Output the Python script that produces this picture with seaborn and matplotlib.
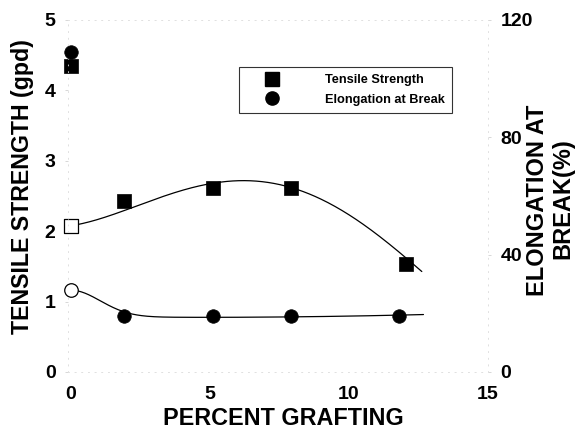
import numpy as np
import matplotlib
matplotlib.use("Agg")
import matplotlib.pyplot as plt
import seaborn as sns
from matplotlib.lines import Line2D

# Ungrafted control fibre
control_x = [0.0]
control_tensile = [4.35]      # gpd
control_elong = [109.0]       # %

# Treated fibre, 0 % grafting (open symbols)
base_x = [0.0]
base_tensile = [2.08]
base_elong = [28.0]

# Grafted fibres
graft_x_ts = [1.9, 5.1, 7.9, 12.05]
graft_tensile = [2.43, 2.61, 2.62, 1.53]
graft_x_el = [1.9, 5.1, 7.9, 11.8]
graft_elong = [19.2, 19.2, 19.2, 19.2]

# Trend curves (smoothed fits)
ts_trend_x = [0.0, 0.27, 1.95, 3.39, 4.95, 6.1, 7.17, 7.89, 9.68, 11.48, 12.62]
ts_trend_y = [2.08, 2.09, 2.31, 2.50, 2.64, 2.74, 2.70, 2.63, 2.28, 1.83, 1.42]
el_trend_x = [0.0, 0.51, 1.23, 1.95, 2.79, 3.99, 5.79, 8.18, 10.58, 12.68]
el_trend_y = [28.0, 26.8, 23.4, 20.35, 19.1, 18.65, 18.5, 18.85, 19.3, 19.5]

x_ticks = [0, 5, 10, 15]
left_ticks = [0, 1, 2, 3, 4, 5]
right_ticks = [0, 40, 80, 120]

sns.set_style("white")
plt.rcParams["font.family"] = ["Liberation Sans", "DejaVu Sans"]
plt.rcParams["font.weight"] = "bold"
plt.rcParams["text.color"] = "black"

W, H = 575, 429
fig = plt.figure(figsize=(W / 100, H / 100), dpi=100)
ax = fig.add_axes([68 / W, 1 - 372 / H, 420 / W, 352 / H])
ax2 = ax.twinx()

# Smooth trend lines
tx = np.array(ts_trend_x)
fx_ts = np.linspace(0, tx.max(), 300)
ts_fit = np.polyval(np.polyfit(tx, ts_trend_y, 4), fx_ts)

ex = np.array(el_trend_x)
fx_el = np.linspace(0, ex.max(), 300)
def el_basis(x):
    return np.column_stack([np.ones_like(x), x, x ** 2, np.exp(-(x / 1.5) ** 2)])
coef, *_ = np.linalg.lstsq(el_basis(ex), np.array(el_trend_y), rcond=None)
el_fit = el_basis(fx_el) @ coef

sns.lineplot(x=fx_ts, y=ts_fit, ax=ax, color="black", lw=0.9, zorder=2)
sns.lineplot(x=fx_el, y=el_fit, ax=ax2, color="black", lw=0.9, zorder=2)

sq, ci = 100, 95
sns.scatterplot(x=control_x + graft_x_ts, y=control_tensile + graft_tensile, ax=ax,
                marker="s", s=sq, color="black", edgecolor="black", linewidth=0.5,
                zorder=3, clip_on=False)
sns.scatterplot(x=base_x, y=base_tensile, ax=ax, marker="s", s=sq,
                facecolor="white", edgecolor="black", linewidth=0.9, zorder=3,
                clip_on=False)
sns.scatterplot(x=control_x + graft_x_el, y=control_elong + graft_elong, ax=ax2,
                marker="o", s=ci, color="black", edgecolor="black", linewidth=0.5,
                zorder=3, clip_on=False)
sns.scatterplot(x=base_x, y=base_elong, ax=ax2, marker="o", s=ci,
                facecolor="white", edgecolor="black", linewidth=0.9, zorder=3,
                clip_on=False)

ax.set_xlim(-0.1, 15)
ax.set_ylim(0, 5)
ax2.set_ylim(0, 120)
ax.set_xticks(x_ticks)
ax.set_yticks(left_ticks)
ax2.set_yticks(right_ticks)

for a in (ax, ax2):
    for sp in a.spines.values():
        sp.set_color("#e0e0e0")
        sp.set_linewidth(0.6)
        sp.set_linestyle((0, (1, 7)))
    a.tick_params(labelsize=14, length=2, width=0.5, color="#c8c8c8",
                  labelcolor="black")
ax.tick_params(axis="y", pad=7)
ax.tick_params(axis="x", pad=8)
ax2.tick_params(axis="y", pad=7)
ax.set_xlabel("")
ax.set_ylabel("")
ax2.set_ylabel("")

# Axis titles
fig.text(283 / W, 1 - 425 / H, "PERCENT GRAFTING", fontsize=16.8,
         fontweight="bold", ha="center", va="baseline")
fig.text(23 / W, 1 - 186.5 / H, "TENSILE STRENGTH (gpd)", fontsize=16.7,
         fontweight="bold", ha="center", va="center", rotation=90)
fig.text(538 / W, 1 - 200.5 / H, "ELONGATION AT", fontsize=17,
         fontweight="bold", ha="center", va="center", rotation=90)
fig.text(563 / W, 1 - 198.5 / H, "BREAK(%)", fontsize=17,
         fontweight="bold", ha="center", va="center", rotation=90)

handles = [
    Line2D([], [], marker="s", ls="none", color="black", markersize=9.5),
    Line2D([], [], marker="o", ls="none", color="black", markersize=9.5),
]
leg = ax.legend(handles, ["Tensile Strength", "Elongation at Break"],
                loc="upper left", bbox_to_anchor=(0.407, 0.866),
                prop={"size": 9.2, "weight": "bold"}, frameon=True,
                fancybox=False, handlelength=4.1, handletextpad=2.1,
                borderpad=0.55, labelspacing=0.6, borderaxespad=0)
leg.get_frame().set_edgecolor("black")
leg.get_frame().set_linewidth(0.8)

fig.savefig("out.png", dpi=100)
